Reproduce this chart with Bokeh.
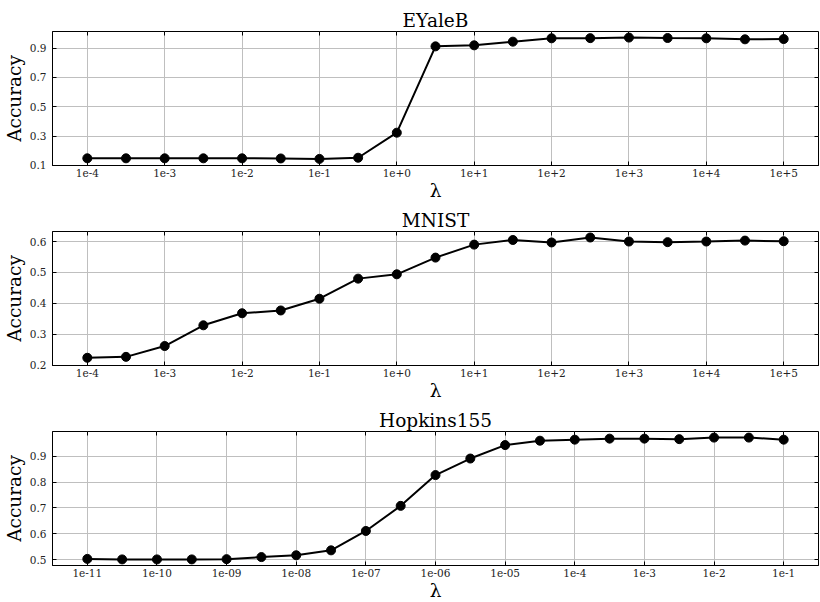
from bokeh.plotting import figure
from bokeh.layouts import column
from bokeh.models import (Range1d, FixedTicker, CustomJSTickFormatter,
                          LogAxis, LinearAxis)
from bokeh.embed import file_html
from bokeh.resources import INLINE

FONT = "DejaVu Serif"

# ---------------- data ----------------
# EYaleB
eyale_exp = [-4, -3.5, -3, -2.5, -2, -1.5, -1, -0.5, 0, 0.5, 1, 1.5, 2, 2.5,
             3, 3.5, 4, 4.5, 5]
eyale_acc = [0.148, 0.148, 0.148, 0.148, 0.148, 0.147, 0.144, 0.152, 0.323,
             0.912, 0.919, 0.944, 0.967, 0.968, 0.972, 0.969, 0.967, 0.960,
             0.962]
eyale_xtick_exp = [-4, -3, -2, -1, 0, 1, 2, 3, 4, 5]
eyale_xtick_labels = ["1e-4", "1e-3", "1e-2", "1e-1", "1e+0", "1e+1", "1e+2",
                      "1e+3", "1e+4", "1e+5"]
eyale_yticks = [0.1, 0.3, 0.5, 0.7, 0.9]
eyale_ytick_labels = ["0.1", "0.3", "0.5", "0.7", "0.9"]

# MNIST
mnist_exp = [-4, -3.5, -3, -2.5, -2, -1.5, -1, -0.5, 0, 0.5, 1, 1.5, 2, 2.5,
             3, 3.5, 4, 4.5, 5]
mnist_acc = [0.224, 0.227, 0.262, 0.329, 0.368, 0.377, 0.415, 0.480, 0.494,
             0.548, 0.590, 0.605, 0.597, 0.613, 0.600, 0.598, 0.600, 0.603,
             0.601]
mnist_xtick_exp = [-4, -3, -2, -1, 0, 1, 2, 3, 4, 5]
mnist_xtick_labels = ["1e-4", "1e-3", "1e-2", "1e-1", "1e+0", "1e+1", "1e+2",
                      "1e+3", "1e+4", "1e+5"]
mnist_yticks = [0.2, 0.3, 0.4, 0.5, 0.6]
mnist_ytick_labels = ["0.2", "0.3", "0.4", "0.5", "0.6"]

# Hopkins155
hop_exp = [-11, -10.5, -10, -9.5, -9, -8.5, -8, -7.5, -7, -6.5, -6, -5.5, -5,
           -4.5, -4, -3.5, -3, -2.5, -2, -1.5, -1]
hop_acc = [0.503, 0.501, 0.501, 0.501, 0.502, 0.510, 0.517, 0.536, 0.611,
           0.708, 0.827, 0.891, 0.943, 0.960, 0.964, 0.968, 0.968, 0.966,
           0.972, 0.972, 0.964]
hop_xtick_exp = [-11, -10, -9, -8, -7, -6, -5, -4, -3, -2, -1]
hop_xtick_labels = ["1e-11", "1e-10", "1e-09", "1e-08", "1e-07", "1e-06",
                    "1e-05", "1e-4", "1e-3", "1e-2", "1e-1"]
hop_yticks = [0.5, 0.6, 0.7, 0.8, 0.9]
hop_ytick_labels = ["0.5", "0.6", "0.7", "0.8", "0.9"]

titles = ["EYaleB", "MNIST", "Hopkins155"]

LOG_FMT = """
let best = 0; let bd = Infinity;
for (let i = 0; i < tvals.length; i++) {
  const d = Math.abs(Math.log10(tvals[i]) - Math.log10(tick));
  if (d < bd) { bd = d; best = i; }
}
return tlabels[best];
"""
LIN_FMT = """
let best = 0; let bd = Infinity;
for (let i = 0; i < tvals.length; i++) {
  const d = Math.abs(tvals[i] - tick);
  if (d < bd) { bd = d; best = i; }
}
return tlabels[best];
"""


def panel(title, exps, acc, xt_exp, xt_labels, yt, yt_labels, top, bottom):
    x = [10.0 ** e for e in exps]
    xticks = [10.0 ** e for e in xt_exp]
    xspan = max(exps) - min(exps)
    xr = Range1d(10 ** (min(exps) - 0.05 * xspan),
                 10 ** (max(exps) + 0.05 * xspan))
    yspan = max(acc) - min(acc)
    y0 = min(min(acc) - 0.05 * yspan, yt[0] - 0.001)
    yr = Range1d(y0, max(acc) + 0.05 * yspan)

    p = figure(frame_width=766, frame_height=134, x_axis_type="log",
               x_range=xr, y_range=yr, title=title,
               output_backend="svg", toolbar_location=None,
               min_border_left=48, min_border_right=2,
               min_border_top=top, min_border_bottom=bottom)
    p.title.text_font = FONT
    p.title.text_font_size = "18.5px"
    p.title.text_font_style = "normal"
    p.title.text_line_height = 1.0
    p.title.align = "center"
    p.title.standoff = 1
    p.title.text_color = "black"

    p.outline_line_color = "black"
    p.outline_line_width = 1
    p.outline_line_alpha = 1
    p.background_fill_color = "white"
    p.border_fill_color = "white"

    for g in (p.xgrid, p.ygrid):
        g.grid_line_color = "#bfbfbf"
        g.grid_line_width = 1

    xa = p.xaxis[0]
    xa.ticker = FixedTicker(ticks=xticks)
    xa.formatter = CustomJSTickFormatter(
        args=dict(tvals=xticks, tlabels=xt_labels), code=LOG_FMT)
    xa.axis_label = "λ"

    ya = p.yaxis[0]
    ya.ticker = FixedTicker(ticks=yt)
    ya.formatter = CustomJSTickFormatter(
        args=dict(tvals=yt, tlabels=yt_labels), code=LIN_FMT)
    ya.axis_label = "Accuracy"

    for ax in (xa, ya):
        ax.major_tick_in = 4
        ax.major_tick_out = 0
        ax.minor_tick_line_color = None
        ax.axis_line_color = "black"
        ax.major_tick_line_color = "black"
        ax.major_label_text_font = FONT
        ax.major_label_text_font_size = "10.5px"
        ax.major_label_text_color = "#222222"
        ax.major_label_text_line_height = 1.0
        ax.axis_label_text_font = FONT
        ax.axis_label_text_font_size = "18.5px"
        ax.axis_label_text_font_style = "normal"
        ax.axis_label_text_color = "black"
        ax.axis_label_text_line_height = 1.0
    xa.major_label_standoff = 3
    xa.axis_label_standoff = 0
    ya.major_label_standoff = 6
    ya.axis_label_standoff = 2

    empty = "return '';"
    top_ax = LogAxis(ticker=FixedTicker(ticks=xticks),
                     formatter=CustomJSTickFormatter(code=empty),
                     major_tick_in=4, major_tick_out=0,
                     major_label_standoff=0,
                     major_label_text_font_size="1px",
                     major_label_text_line_height=0.0,
                     minor_tick_line_color=None, axis_line_color=None,
                     major_tick_line_color="black")
    right_ax = LinearAxis(ticker=FixedTicker(ticks=yt),
                          formatter=CustomJSTickFormatter(code=empty),
                          major_tick_in=4, major_tick_out=0,
                          major_label_standoff=0,
                          major_label_text_font_size="1px",
                          major_label_text_line_height=0.0,
                          minor_tick_line_color=None, axis_line_color=None,
                          major_tick_line_color="black")
    p.add_layout(top_ax, "above")
    p.add_layout(right_ax, "right")

    p.line(x, acc, line_color="black", line_width=2)
    p.scatter(x, acc, size=9, fill_color="black", line_color="black")
    return p


p1 = panel(titles[0], eyale_exp, eyale_acc, eyale_xtick_exp,
           eyale_xtick_labels, eyale_yticks, eyale_ytick_labels, 31, 36)
p2 = panel(titles[1], mnist_exp, mnist_acc, mnist_xtick_exp,
           mnist_xtick_labels, mnist_yticks, mnist_ytick_labels, 28, 36)
p3 = panel(titles[2], hop_exp, hop_acc, hop_xtick_exp,
           hop_xtick_labels, hop_yticks, hop_ytick_labels, 28, 30)

layout = column(p1, p2, p3, spacing=0)

with open("out.html", "w") as f:
    f.write(file_html(layout, INLINE))
